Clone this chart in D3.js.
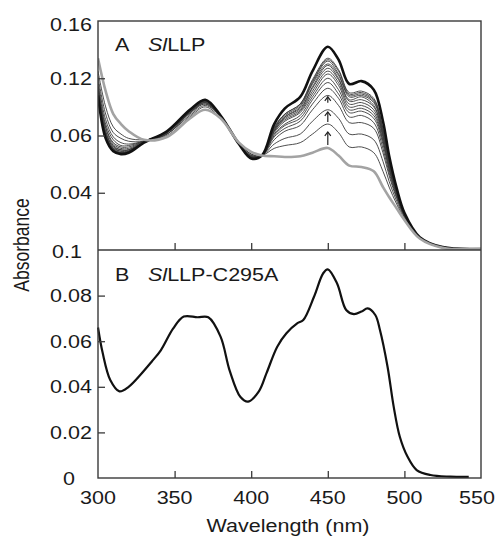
<!DOCTYPE html>
<html><head><meta charset="utf-8">
<script src="https://cdn.jsdelivr.net/npm/d3@7"></script>
<style>html,body{margin:0;padding:0;background:#fff;}svg{display:block;}</style>
</head><body>
<svg id="chart" width="497" height="536"></svg>
<script>
// ---------- data ----------
const wavelengthsA = [300,305,310,315,320,330,345,360,370,380,392,400,407,415,422,432,440,450,457,464,472,480,486,490,495,500,510,525,550];
const initialSpectrum = [0.134,0.111,0.095,0.088,0.083,0.077,0.079,0.092,0.098,0.092,0.075,0.0685,0.066,0.0655,0.065,0.0655,0.068,0.0713,0.066,0.059,0.058,0.055,0.044,0.037,0.029,0.021,0.008,0.0015,0.0007];
const finalSpectrum = [0.108,0.078,0.069,0.067,0.068,0.075,0.083,0.098,0.105,0.094,0.074,0.064,0.066,0.088,0.099,0.107,0.125,0.142,0.133,0.116,0.118,0.112,0.090,0.066,0.043,0.026,0.009,0.002,0.0007];
const scan01 = [0.125,0.100,0.086,0.081,0.078,0.077,0.080,0.093,0.100,0.092,0.075,0.067,0.066,0.071,0.073,0.075,0.081,0.088,0.082,0.072,0.072,0.068,0.055,0.044,0.032,0.022,0.008,0.0015,0.0007];
const scan02 = [0.121,0.095,0.082,0.078,0.076,0.076,0.081,0.094,0.101,0.093,0.075,0.067,0.066,0.074,0.078,0.081,0.090,0.098,0.092,0.081,0.081,0.077,0.062,0.048,0.034,0.023,0.008,0.0017,0.0007];
const scan03 = [0.118,0.091,0.079,0.075,0.074,0.076,0.081,0.095,0.102,0.093,0.0745,0.066,0.066,0.077,0.083,0.087,0.098,0.108,0.101,0.089,0.089,0.085,0.068,0.052,0.036,0.024,0.0085,0.0018,0.0007];
const scan04 = [0.116,0.088,0.077,0.073,0.073,0.076,0.081,0.096,0.102,0.093,0.0744,0.066,0.066,0.079,0.085,0.090,0.102,0.113,0.106,0.093,0.094,0.089,0.071,0.054,0.037,0.024,0.0086,0.0018,0.0007];
const scan05 = [0.114,0.086,0.075,0.072,0.072,0.076,0.082,0.096,0.103,0.093,0.0744,0.066,0.066,0.080,0.087,0.092,0.105,0.117,0.109,0.096,0.097,0.092,0.074,0.056,0.038,0.024,0.0086,0.0018,0.0007];
const scan06 = [0.113,0.085,0.074,0.071,0.071,0.076,0.082,0.096,0.103,0.093,0.0743,0.065,0.066,0.081,0.088,0.094,0.107,0.120,0.112,0.098,0.099,0.094,0.076,0.057,0.039,0.024,0.0087,0.0018,0.0007];
const scan07 = [0.112,0.083,0.073,0.070,0.070,0.076,0.082,0.096,0.103,0.093,0.0743,0.065,0.066,0.082,0.090,0.096,0.109,0.123,0.115,0.100,0.101,0.096,0.077,0.058,0.039,0.025,0.0087,0.0019,0.0007];
const scan08 = [0.111,0.082,0.072,0.070,0.070,0.075,0.082,0.097,0.103,0.094,0.0742,0.065,0.066,0.083,0.091,0.097,0.111,0.125,0.117,0.102,0.103,0.098,0.079,0.059,0.040,0.025,0.0088,0.0019,0.0007];
const scan09 = [0.111,0.082,0.072,0.069,0.070,0.075,0.082,0.097,0.104,0.094,0.0742,0.065,0.066,0.083,0.092,0.098,0.113,0.127,0.119,0.104,0.105,0.100,0.080,0.060,0.040,0.025,0.0088,0.0019,0.0007];
const scan10 = [0.110,0.081,0.071,0.069,0.069,0.075,0.082,0.097,0.104,0.094,0.0742,0.065,0.066,0.084,0.093,0.099,0.114,0.129,0.120,0.105,0.107,0.101,0.081,0.061,0.040,0.025,0.0088,0.0019,0.0007];
const scan11 = [0.110,0.080,0.071,0.068,0.069,0.075,0.082,0.097,0.104,0.094,0.0742,0.065,0.066,0.084,0.093,0.100,0.116,0.130,0.122,0.107,0.108,0.103,0.082,0.061,0.041,0.025,0.0088,0.0019,0.0007];
const scan12 = [0.109,0.080,0.070,0.068,0.069,0.075,0.082,0.097,0.104,0.094,0.0741,0.065,0.066,0.085,0.094,0.101,0.117,0.132,0.123,0.108,0.109,0.104,0.083,0.062,0.041,0.025,0.0089,0.0019,0.0007];
const scan13 = [0.109,0.079,0.070,0.068,0.069,0.075,0.083,0.097,0.104,0.094,0.0741,0.065,0.066,0.085,0.095,0.102,0.118,0.133,0.125,0.109,0.110,0.105,0.084,0.062,0.041,0.025,0.0089,0.0019,0.0007];
const scan14 = [0.109,0.079,0.070,0.068,0.068,0.075,0.083,0.097,0.104,0.094,0.0741,0.065,0.066,0.086,0.095,0.102,0.119,0.134,0.126,0.110,0.111,0.106,0.085,0.063,0.041,0.025,0.0089,0.0019,0.0007];

const wavelengthsB = [300,303,308,314,320,328,335,341,349,356,365,372,380,386,393,398,405,410,417,423,430,434,441,447,450,456,462,467,472,476,481,484,489,493,497,502,508,517,530,542];
const mutantSpectrum = [0.066,0.055,0.043,0.038,0.040,0.0455,0.051,0.056,0.0655,0.0708,0.0705,0.0705,0.062,0.047,0.0355,0.0335,0.038,0.046,0.0576,0.0635,0.0678,0.0693,0.0795,0.0898,0.0915,0.0854,0.0737,0.0719,0.073,0.0744,0.0715,0.065,0.0488,0.0313,0.0181,0.0094,0.0035,0.0013,0.0006,0.0005];

const arrowWavelength = 450;
const arrowBase = [0.0734, 0.0895, 0.1028];
const arrowTip  = [0.0825, 0.0965, 0.107];

const xTicks = [300,350,400,450,500,550];
const topYTicks = [0, 0.04, 0.08, 0.12, 0.16];
const topYLabels = ["", "0.04", "0.06", "0.12", "0.16"];
const bottomYTicks = [0, 0.02, 0.04, 0.06, 0.08, 0.1];
const bottomYLabels = ["0", "0.02", "0.04", "0.06", "0.08", "0.1"];
const panelLetters = ["A", "B"];
const panelNames = [["Sl", "LLP"], ["Sl", "LLP-C295A"]];
const xTitle = "Wavelength (nm)";
const yTitle = "Absorbance";

// ---------- layout ----------
const L = 98, R = 481, T = 21, M = 250, Bt = 478;
const FONT = "'Liberation Sans', Arial, Helvetica, sans-serif";
const FS = 17.5, SX = 1.23;

const svg = d3.select("#chart");
svg.append("rect").attr("width", 497).attr("height", 536).attr("fill", "#fff");

const x = d3.scaleLinear().domain([300, 550]).range([L, R]);
const yA = d3.scaleLinear().domain([0, 0.16]).range([M, T]);
const yB = d3.scaleLinear().domain([0, 0.1]).range([Bt, M]);

svg.append("clipPath").attr("id", "clipA").append("rect")
  .attr("x", L).attr("y", T).attr("width", R - L).attr("height", M - T);

const lineA = d3.line().x(d => x(d[0])).y(d => yA(d[1])).curve(d3.curveCatmullRom.alpha(0.5));
const lineB = d3.line().x(d => x(d[0])).y(d => yB(d[1])).curve(d3.curveCatmullRom.alpha(0.5));
const zip = (w, v) => w.map((wl, i) => [wl, v[i]]);

const gA = svg.append("g").attr("clip-path", "url(#clipA)");
const scans = [scan01, scan02, scan03, scan04, scan05, scan06, scan07, scan08, scan09, scan10, scan11, scan12, scan13, scan14];
gA.selectAll("path.scan").data(scans).enter().append("path")
  .attr("class", "scan")
  .attr("d", s => lineA(zip(wavelengthsA, s)))
  .attr("fill", "none").attr("stroke", "#3a3a3a").attr("stroke-width", 0.9);
gA.append("path").attr("d", lineA(zip(wavelengthsA, finalSpectrum)))
  .attr("fill", "none").attr("stroke", "#111").attr("stroke-width", 2.6).attr("stroke-linejoin", "round");
gA.append("path").attr("d", lineA(zip(wavelengthsA, initialSpectrum)))
  .attr("fill", "none").attr("stroke", "#a3a3a3").attr("stroke-width", 2.6).attr("stroke-linejoin", "round");

// arrows
arrowBase.forEach((b, i) => {
  const ax = x(arrowWavelength), y0 = yA(b), y1 = yA(arrowTip[i]);
  svg.append("line").attr("x1", ax).attr("x2", ax).attr("y1", y0).attr("y2", y1)
    .attr("stroke", "#222").attr("stroke-width", 1.2);
  svg.append("path").attr("d", `M${ax - 3},${y1 + 4}L${ax},${y1}L${ax + 3},${y1 + 4}`)
    .attr("fill", "none").attr("stroke", "#222").attr("stroke-width", 1.2);
});

// panel B curve
svg.append("path").attr("d", lineB(zip(wavelengthsB, mutantSpectrum)))
  .attr("fill", "none").attr("stroke", "#111").attr("stroke-width", 2.2).attr("stroke-linejoin", "round");

// frame
const frameColor = "#3a3a3a";
svg.append("rect").attr("x", L).attr("y", T).attr("width", R - L).attr("height", Bt - T)
  .attr("fill", "none").attr("stroke", frameColor).attr("stroke-width", 1.4);
svg.append("line").attr("x1", L).attr("x2", R).attr("y1", M).attr("y2", M)
  .attr("stroke", frameColor).attr("stroke-width", 1.4);

// ticks (inward) via d3 axes
const tickStyle = g => { g.select(".domain").remove(); g.selectAll("line").attr("stroke", frameColor).attr("stroke-width", 1.3); g.selectAll("text").remove(); };
const innerX = xTicks.filter(v => v > 300 && v < 550);
svg.append("g").attr("transform", `translate(0,${M})`)
  .call(d3.axisBottom(x).tickValues(innerX).tickSize(-7)).call(tickStyle);
svg.append("g").attr("transform", `translate(0,${Bt})`)
  .call(d3.axisBottom(x).tickValues(innerX).tickSize(-7)).call(tickStyle);
svg.append("g").attr("transform", `translate(${L},0)`)
  .call(d3.axisLeft(yA).tickValues(topYTicks.filter(v => v > 0 && v < 0.16)).tickSize(-7)).call(tickStyle);
svg.append("g").attr("transform", `translate(${L},0)`)
  .call(d3.axisLeft(yB).tickValues(bottomYTicks.filter(v => v > 0 && v < 0.1)).tickSize(-7)).call(tickStyle);

// text helper with horizontal stretch
function label(px, py, txt, anchor, extra) {
  return svg.append("text")
    .attr("transform", `translate(${px},${py}) scale(${SX},1)` + (extra || ""))
    .attr("text-anchor", anchor)
    .attr("font-family", FONT).attr("font-size", FS).attr("fill", "#1a1a1a")
    .text(txt);
}

// y tick labels
const yShift = t => t === "0" ? -17 : (t === "0.1" ? -10 : 0);
topYTicks.forEach((v, i) => {
  if (!topYLabels[i]) return;
  const py = v === 0.16 ? yA(v) + 9.5 : yA(v) + 6.3;
  label(92 + yShift(topYLabels[i]), py, topYLabels[i], "end");
});
bottomYTicks.forEach((v, i) => {
  label(92 + yShift(bottomYLabels[i]), yB(v) + 6.5 + (v === 0.1 ? 1.5 : 0), bottomYLabels[i], "end");
});

// x tick labels (last one kept inside the picture edge)
xTicks.forEach((v, i) => {
  const last = i === xTicks.length - 1;
  label(last ? 495 : x(v), 503.5, String(v), last ? "end" : "middle");
});

// axis titles
label(288, 532, xTitle, "middle");
svg.append("text")
  .attr("transform", `translate(29,245) scale(${SX},1) rotate(-90)`)
  .attr("text-anchor", "middle")
  .attr("font-family", FONT).attr("font-size", FS).attr("fill", "#1a1a1a")
  .text(yTitle);

// panel labels
[51, 281].forEach((py, i) => {
  label(115, py, panelLetters[i], "start");
  const t = label(148, py, "", "start");
  t.append("tspan").attr("font-style", "italic").text(panelNames[i][0]);
  t.append("tspan").text(panelNames[i][1]);
});
</script>
</body></html>
